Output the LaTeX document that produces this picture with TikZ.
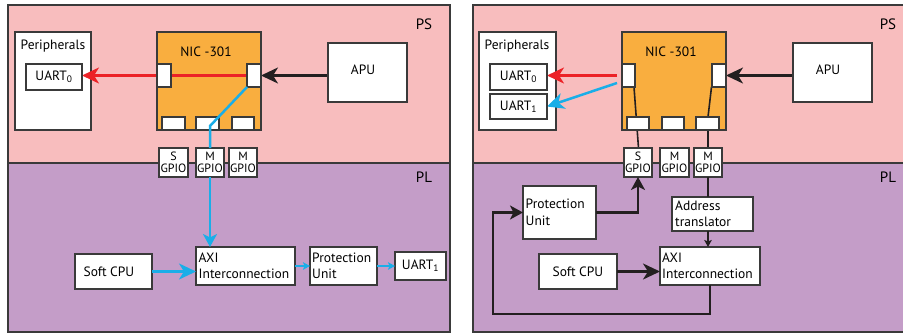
\documentclass[tikz,border=0pt]{standalone}
\usepackage{fontspec}
\setmainfont{PT Sans}
\usetikzlibrary{arrows.meta,calc}

\definecolor{psbg}{HTML}{F8BDBE}
\definecolor{plbg}{HTML}{C49DC8}
\definecolor{nicfill}{HTML}{F9AE3F}
\definecolor{edgegray}{HTML}{3A3A3A}
\definecolor{cyanline}{HTML}{1AAEE8}
\definecolor{redline}{HTML}{EC2227}
\definecolor{darkline}{HTML}{231F20}

\pgfdeclarelayer{zones}
\pgfdeclarelayer{chip}
\pgfdeclarelayer{wires}
\pgfsetlayers{zones,chip,wires,main}

\tikzset{
  box/.style={draw=edgegray, fill=white, line width=1.1pt, outer sep=0pt,
    inner sep=0pt, anchor=north west},
  nic/.style={box, fill=nicfill},
  port/.style={box},
  gpio/.style={box, font=\fontsize{12}{11.5}\selectfont, align=center},
  txt/.style={font=\fontsize{13.5}{16.5}\selectfont, inner sep=0pt},
  ltxt/.style={txt, align=left, anchor=west},
  zone/.style={draw=edgegray, line width=1.1pt},
  redwire/.style={draw=redline, line width=2.5pt},
  bluewire/.style={draw=cyanline, line width=2.5pt},
  blackwire/.style={draw=darkline, line width=2.2pt},
  thinblue/.style={draw=cyanline, line width=1.6pt},
  thinblack/.style={draw=darkline, line width=1.6pt},
  bigtip/.style={-{Stealth[length=17pt,width=16pt,inset=5pt]}},
  midtip/.style={-{Stealth[length=13pt,width=14pt,inset=3.5pt]}},
  smalltip/.style={-{Stealth[length=7pt,width=7.5pt,inset=1.5pt]}},
}

\begin{document}
\begin{tikzpicture}[x=1pt,y=-1pt]
\useasboundingbox (0,0) rectangle (903,333);

% ---------- panel backgrounds ----------
\begin{pgfonlayer}{zones}
  \fill[psbg] (8,5) rectangle (450,163);
  \fill[plbg] (8,163) rectangle (450,332);
  \draw[zone] (8,5) rectangle (450,332);
  \draw[zone] (8,163) -- (450,163);
  \fill[psbg] (473,5) rectangle (910,163);
  \fill[plbg] (473,163) rectangle (910,332);
  \draw[zone] (473,5) rectangle (910,332);
  \draw[zone] (473,163) -- (910,163);
\end{pgfonlayer}
\node[txt, font=\fontsize{15}{15}\selectfont] (psL) at (424,24) {PS};
\node[txt, font=\fontsize{15}{15}\selectfont] (plL) at (424,177) {PL};
\node[txt, font=\fontsize{15}{15}\selectfont] (psR) at (888,24) {PS};
\node[txt, font=\fontsize{15}{15}\selectfont] (plR) at (888,177) {PL};

% ================= left panel =================
\begin{pgfonlayer}{chip}
  \node[nic, minimum width=104, minimum height=98] (nicL) at (157,32) {};
  \node[box, minimum width=76, minimum height=98] (perL) at (15,32) {};
\end{pgfonlayer}
\node[txt] (nicLt) at (206,52) {NIC -301};
\node[txt] (perLt) at (53,46) {Peripherals};
\node[port, minimum width=14, minimum height=23] (lpL) at (157,64) {};
\node[port, minimum width=14, minimum height=23] (rpL) at (247,64) {};
\node[port, minimum width=23, minimum height=13] (bL1) at (162,117) {};
\node[port, minimum width=23, minimum height=13] (bL2) at (196,117) {};
\node[port, minimum width=22, minimum height=13] (bL3) at (232,117) {};
\node[box, minimum width=56, minimum height=26] (u0L) at (26,64) {};
\node[txt] at (u0L.center) {UART\textsubscript{0}};
\node[box, minimum width=79, minimum height=59] (apuL) at (328,43) {};
\node[txt] at (363,70) {APU};
\node[gpio, minimum width=29, minimum height=29] (sgL) at (159,148) {S\\GPIO};
\node[gpio, minimum width=28, minimum height=29] (mgL1) at (196,148) {M\\GPIO};
\node[gpio, minimum width=28, minimum height=29] (mgL2) at (229,148) {M\\GPIO};
\node[box, minimum width=99, minimum height=38] (axiL) at (196,247) {};
\node[ltxt] at ($(axiL.west)+(2.5,0)$) {AXI\\Interconnection};
\node[box, minimum width=77, minimum height=35] (cpuL) at (75,254) {};
\node[txt] at (109,272) {Soft CPU};
\node[box, minimum width=67, minimum height=38] (puL) at (310,247) {};
\node[ltxt] at ($(puL.west)+(2,0)$) {Protection\\Unit};
\node[box, minimum width=51, minimum height=28] (u1L) at (395,252) {};
\node[txt] at (u1L.center) {UART\textsubscript{1}};

\begin{pgfonlayer}{wires}
  \draw[redwire, bigtip] (rpL.center) -- (rpL.center -| u0L.east);
  \draw[blackwire, bigtip] (rpL.east -| apuL.west) -- (rpL.east);
\end{pgfonlayer}
\coordinate (bendL) at ($(mgL1.north)+(0,-22)$);
\draw[bluewire, line join=miter] (rpL.south west) -- (bendL) -- (mgL1.north);
\draw[bluewire, midtip] (mgL1.south) -- (mgL1.south |- axiL.north);
\draw[bluewire, bigtip] (cpuL.east) -- (cpuL.east -| axiL.west);
\draw[thinblue, smalltip] (axiL.east) -- (puL.west);
\draw[thinblue, smalltip] (puL.east) -- (u1L.west);

% ================= right panel =================
\begin{pgfonlayer}{chip}
  \node[nic, minimum width=104, minimum height=98] (nicR) at (622,32) {};
  \node[box, minimum width=77, minimum height=98] (perR) at (479,32) {};
\end{pgfonlayer}
\node[txt] (nicRt) at (671,52) {NIC -301};
\node[txt] (perRt) at (517,46) {Peripherals};
\node[port, minimum width=13, minimum height=23] (lpR) at (622,64) {};
\node[port, minimum width=14, minimum height=23] (rpR) at (712,64) {};
\node[port, minimum width=22, minimum height=13] (bR1) at (627,117) {};
\node[port, minimum width=22, minimum height=13] (bR2) at (662,117) {};
\node[port, minimum width=23, minimum height=13] (bR3) at (696,117) {};
\node[box, minimum width=57, minimum height=26] (u0R) at (490,64) {};
\node[txt] at (u0R.center) {UART\textsubscript{0}};
\node[box, minimum width=57, minimum height=25] (u1R) at (490,94) {};
\node[txt] at (u1R.center) {UART\textsubscript{1}};
\node[box, minimum width=79, minimum height=59] (apuR) at (793,43) {};
\node[txt] at (828,70) {APU};
\node[gpio, minimum width=28, minimum height=29] (sgR) at (624,148) {S\\GPIO};
\node[gpio, minimum width=29, minimum height=29] (mgR1) at (660,148) {M\\GPIO};
\node[gpio, minimum width=28, minimum height=29] (mgR2) at (694,148) {M\\GPIO};
\node[box, minimum width=73, minimum height=53] (puR) at (523,186) {};
\node[ltxt] at ($(puR.west)+(2.5,0)$) {Protection\\Unit};
\node[box, minimum width=81, minimum height=34] (atR) at (672,197) {};
\node[ltxt] at ($(atR.west)+(3,0)$) {Address\\translator};
\node[box, minimum width=100, minimum height=38] (axiR) at (660,247) {};
\node[ltxt] at ($(axiR.west)+(2,0)$) {AXI\\Interconnection};
\node[box, minimum width=78, minimum height=35] (cpuR) at (539,254) {};
\node[txt] at (578,272) {Soft CPU};

\coordinate (redsrc) at (617,75.5);
\coordinate (bluesrc) at (617,83);
\begin{pgfonlayer}{wires}
  \draw[redwire, bigtip] (redsrc) -- (redsrc -| u0R.east);
  \draw[bluewire, bigtip] (bluesrc) -- (u1R.east);
  \draw[blackwire, bigtip] (rpR.east -| apuR.west) -- (rpR.east);
  \draw[thinblack] ($(lpR.south east)+(-1,0)$) -- ($(sgR.north)+(0.5,0)$);
  \draw[thinblack] ($(rpR.south west)+(-0.5,0)$) -- (mgR2.north |- bR3.north) -- (mgR2.north);
\end{pgfonlayer}
\draw[thinblack] (mgR2.south) -- (mgR2.south |- atR.north);
\draw[thinblack, smalltip] (mgR2.south |- atR.south) -- (mgR2.south |- axiR.north);
\draw[blackwire, bigtip] (cpuR.east) -- (cpuR.east -| axiR.west);
\draw[blackwire, midtip] (puR.east) -| (sgR.south);
\coordinate (loopL) at ($(puR.west)+(-30,0)$);
\draw[blackwire, midtip] (axiR.south) -- ++(0,29) -| (loopL) -- (puR.west);
\end{tikzpicture}
\end{document}
